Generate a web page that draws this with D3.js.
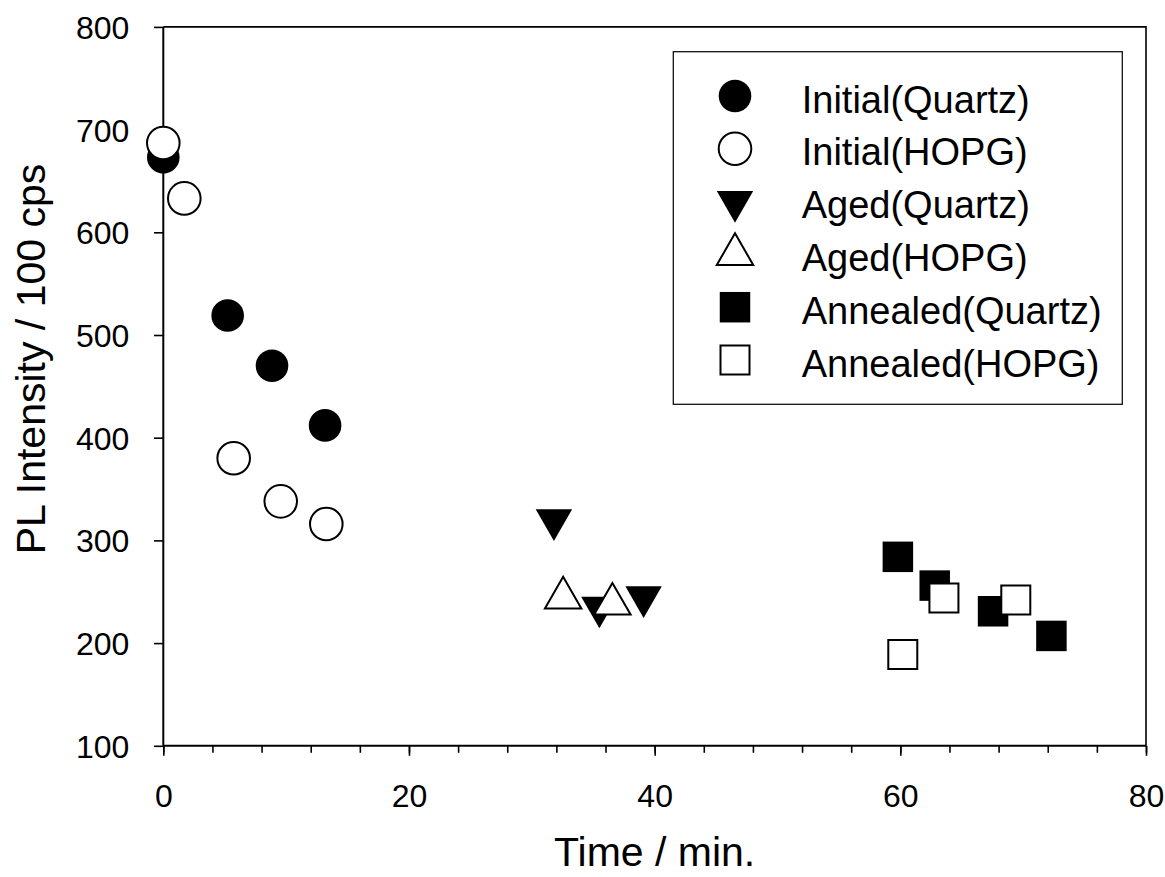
<!DOCTYPE html>
<html>
<head>
<meta charset="utf-8">
<script src="https://cdn.jsdelivr.net/npm/d3@7/dist/d3.min.js"></script>
<style>
    body { margin: 0; background: #fff; }
    svg { display: block; font-family: "Liberation Sans", Arial, sans-serif; }
    .axis path, .axis line { stroke: #000; }
    .axis text { fill: #000; font-size: 32px; }
    .axisTitle { font-size: 41px; fill: #000; }
    .legend text { font-size: 38px; fill: #000; }
</style>
</head>
<body>
<script>
'use strict';

// PL intensity (x100 cps) vs time (min)
const initialQuartzTime = [0, 5.24, 8.85, 13.17];
const initialQuartzPL = [673, 519, 470, 412];
const initialHopgTime = [0, 1.71, 5.73, 9.56, 13.27];
const initialHopgPL = [687, 633, 380, 338, 316];
const agedQuartzTime = [31.8, 35.5, 39.1];
const agedQuartzPL = [320, 235, 245];
const agedHopgTime = [32.55, 36.56];
const agedHopgPL = [244, 238];
const annealedQuartzTime = [59.8, 62.8, 67.55, 72.3];
const annealedQuartzPL = [284, 256, 231, 207];
const annealedHopgTime = [60.2, 63.55, 69.4];
const annealedHopgPL = [189, 244, 242];

const seriesNames = ['Initial(Quartz)', 'Initial(HOPG)', 'Aged(Quartz)', 'Aged(HOPG)', 'Annealed(Quartz)', 'Annealed(HOPG)'];
const xTickValues = [0, 20, 40, 60, 80];
const yTickValues = [100, 200, 300, 400, 500, 600, 700, 800];

(function () {

    function zip(xs, ys) {
        return xs.map((x, i) => ({ x: x, y: ys[i] }));
    }

    function getSeries() {
        return [
            { name: seriesNames[0], shape: 'circle', filled: true, points: zip(initialQuartzTime, initialQuartzPL) },
            { name: seriesNames[1], shape: 'circle', filled: false, points: zip(initialHopgTime, initialHopgPL) },
            { name: seriesNames[2], shape: 'triDown', filled: true, points: zip(agedQuartzTime, agedQuartzPL) },
            { name: seriesNames[3], shape: 'triUp', filled: false, points: zip(agedHopgTime, agedHopgPL) },
            { name: seriesNames[4], shape: 'square', filled: true, points: zip(annealedQuartzTime, annealedQuartzPL) },
            { name: seriesNames[5], shape: 'square', filled: false, points: zip(annealedHopgTime, annealedHopgPL) }
        ];
    }

    function getPlotArea() {
        return {
            svg: { width: 1165, height: 877 },
            left: 163.3,
            right: 1146,
            top: 26.9,
            bottom: 745.8
        };
    }

    function makeScales(plot) {
        return {
            x: d3.scaleLinear().domain([0, 80]).range([plot.left, plot.right]),
            y: d3.scaleLinear().domain([100, 800]).range([plot.bottom, plot.top])
        };
    }

    // marker path centred on 0,0 (triangles sit on their centroid, like the original)
    function symbolPath(shape, filled) {
        if (shape === 'circle') {
            return d3.symbol(d3.symbolCircle, Math.PI * 16.3 * 16.3)();
        }
        if (shape === 'square') {
            const side = filled ? 30.5 : 29;
            return d3.symbol(d3.symbolSquare, side * side)();
        }
        return d3.symbol(d3.symbolTriangle, 575)();
    }

    function appendMarker(g, shape, filled, cx, cy) {
        return g.append('path')
            .attr('d', symbolPath(shape, filled))
            .attr('transform', 'translate(' + cx + ',' + cy + ')' + (shape === 'triDown' ? ' rotate(180)' : ''))
            .attr('fill', filled ? '#000' : '#fff')
            .attr('stroke', '#000')
            .attr('stroke-width', filled ? 0 : 2);
    }

    function appendAxes(svg, plot, scales) {
        const xMinor = svg.append('g')
            .attr('class', 'axis')
            .attr('transform', 'translate(0,' + plot.bottom + ')')
            .call(d3.axisBottom(scales.x).tickValues(d3.range(0, 81, 4)).tickSize(7).tickFormat(''));
        xMinor.select('.domain').remove();
        xMinor.selectAll('line').attr('stroke-width', 1.6);

        const xMajor = svg.append('g')
            .attr('class', 'axis')
            .attr('transform', 'translate(0,' + plot.bottom + ')')
            .call(d3.axisBottom(scales.x).tickValues(xTickValues).tickSize(10));
        xMajor.select('.domain').attr('stroke-width', 2).attr('d', 'M' + plot.left + ',0H' + plot.right);
        xMajor.selectAll('line').attr('stroke-width', 1.6);
        xMajor.selectAll('text').attr('y', 61).attr('dy', 0);

        const yAxis = svg.append('g')
            .attr('class', 'axis')
            .attr('transform', 'translate(' + plot.left + ',0)')
            .call(d3.axisLeft(scales.y).tickValues(yTickValues).tickSize(9.3));
        yAxis.select('.domain').attr('stroke-width', 2).attr('d', 'M0,' + plot.top + 'V' + plot.bottom);
        yAxis.selectAll('line').attr('stroke-width', 1.6);
        yAxis.selectAll('text').attr('x', -34).attr('dy', '0.36em');

        // frame on top and right
        svg.append('path')
            .attr('d', 'M' + plot.left + ',' + plot.top + 'H' + plot.right + 'V' + plot.bottom)
            .attr('fill', 'none')
            .attr('stroke', '#000')
            .attr('stroke-width', 1.6);
    }

    function appendTitles(svg, plot) {
        svg.append('text')
            .attr('class', 'axisTitle')
            .attr('x', (plot.left + plot.right) / 2)
            .attr('y', 866)
            .attr('text-anchor', 'middle')
            .text('Time / min.');
        svg.append('text')
            .attr('class', 'axisTitle')
            .attr('transform', 'translate(45,359) rotate(-90)')
            .attr('text-anchor', 'middle')
            .text('PL Intensity / 100 cps');
    }

    function appendPoints(svg, series, scales) {
        series.forEach((s) => {
            const g = svg.append('g').attr('class', 'series');
            s.points.forEach((p) => appendMarker(g, s.shape, s.filled, scales.x(p.x), scales.y(p.y)));
        });
    }

    function appendLegend(svg, series) {
        const box = { x: 673.3, y: 51.7, width: 449, height: 352.6 };
        const row = { first: 96, spacing: 52.8 };
        const legendGroup = svg.append('g').attr('class', 'legend');
        legendGroup.append('rect')
            .attr('x', box.x)
            .attr('y', box.y)
            .attr('width', box.width)
            .attr('height', box.height)
            .attr('fill', '#fff')
            .attr('stroke', '#111')
            .attr('stroke-width', 1.3);
        series.forEach((s, i) => {
            const cy = row.first + i * row.spacing;
            appendMarker(legendGroup, s.shape, s.filled, 735, cy);
            legendGroup.append('text')
                .attr('x', 801.7)
                .attr('y', cy + 16.5)
                .text(s.name);
        });
    }

    function draw() {
        const plot = getPlotArea();
        const svg = d3.select('body').append('svg')
            .attr('width', plot.svg.width)
            .attr('height', plot.svg.height);
        const scales = makeScales(plot);
        const series = getSeries();
        appendAxes(svg, plot, scales);
        appendTitles(svg, plot);
        appendLegend(svg, series);
        appendPoints(svg, series, scales);
    }

    draw();

})();
</script>
</body>
</html>
